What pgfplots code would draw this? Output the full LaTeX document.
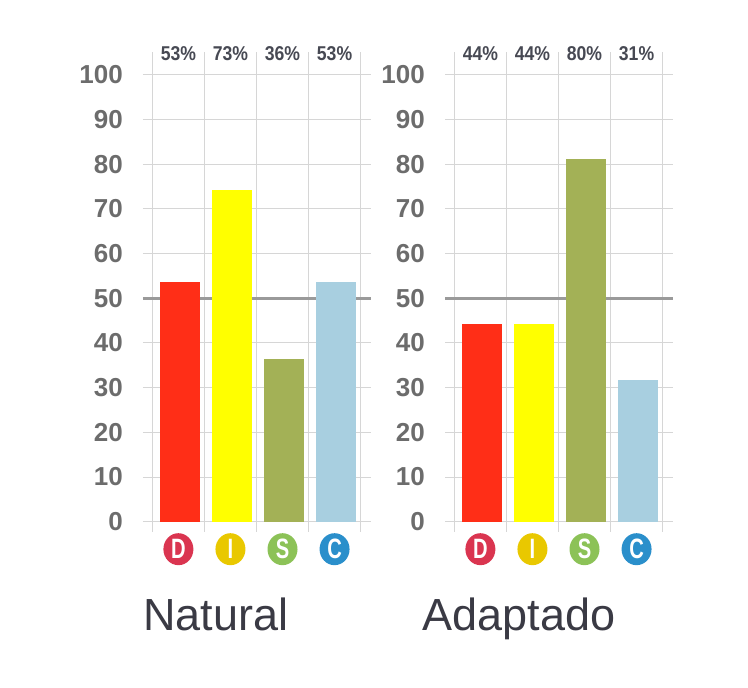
\documentclass[border=0pt]{standalone}
\usepackage{pgfplots}
\pgfplotsset{compat=1.18}
\usepackage{fontspec}
\setmainfont{Liberation Sans}
\newfontfamily\condfont{Liberation Sans Bold}[FakeStretch=0.88]
\newfontfamily\discfont{Liberation Sans Bold}[FakeStretch=0.72]
\usetikzlibrary{shapes.geometric}

\definecolor{barD}{HTML}{FF2E17}
\definecolor{barI}{HTML}{FFFF00}
\definecolor{barS}{HTML}{A3B156}
\definecolor{barC}{HTML}{A8CFE0}
\definecolor{gridc}{HTML}{D6D6D6}
\definecolor{fifty}{HTML}{9A9A9A}
\definecolor{tickc}{HTML}{6C6C6C}
\definecolor{pctc}{HTML}{474953}
\definecolor{titlec}{HTML}{3A3A44}
\definecolor{cD}{HTML}{DA3550}
\definecolor{cI}{HTML}{E9C800}
\definecolor{cS}{HTML}{8CC257}
\definecolor{cC}{HTML}{2A8FCB}

\newcommand{\disc}[2]{\tikz[baseline=(n.base)]\node[ellipse, fill=#1, draw=none, inner sep=0pt, minimum width=30pt, minimum height=32pt, text=white, font=\discfont\fontsize{28}{28}\selectfont](n){#2};}

\pgfplotsset{discax/.style={
  scale only axis, width=228pt, height=480pt,
  xmin=-0.18, xmax=4.2, ymin=-2.3, ymax=105.1,
  axis line style={draw=none},
  ytick={0,10,...,100},
  major tick length=0pt, minor tick length=0pt,
  ymajorgrids, major grid style={gridc, line width=1pt},
  xtick={0.5,1.5,2.5,3.5},
  minor xtick={0,1,2,3,4}, xminorgrids, minor grid style={gridc, line width=1pt},
  /pgf/number format/assume math mode=true,
  yticklabel style={font=\bfseries\fontsize{26}{26}\selectfont, text=tickc, anchor=east, inner sep=0pt, xshift=-20pt},
  xticklabels={\disc{cD}{D}, \disc{cI}{I}, \disc{cS}{S}, \disc{cC}{C}},
  xticklabel style={anchor=north, inner sep=0pt, yshift=-1pt},
  ybar, bar width=0.77, bar shift=1.5pt,
  clip=false,
  every node near coord/.append style={font=\condfont\fontsize{20}{20}\selectfont, text=pctc, inner sep=0pt},
}}

\begin{document}
\begin{tikzpicture}
\useasboundingbox (0,0) rectangle (748pt,688pt);
% Natural
\begin{axis}[discax, at={(143pt,156pt)}, anchor=south west]
\draw[fifty, line width=2.5pt] (axis cs:-0.18,50) -- (axis cs:4.2,50);
\addplot[fill=barD, draw=none] coordinates {(0.5,53.6)};
\addplot[fill=barI, draw=none] coordinates {(1.5,74.2)};
\addplot[fill=barS, draw=none] coordinates {(2.5,36.5)};
\addplot[fill=barC, draw=none] coordinates {(3.5,53.6)};
\addplot[draw=none, fill=none, bar shift=0pt, nodes near coords, point meta=explicit symbolic]
  coordinates {(0.5,103.1)[53\%] (1.5,103.1)[73\%] (2.5,103.1)[36\%] (3.5,103.1)[53\%]};
\end{axis}
% Adaptado
\begin{axis}[discax, at={(445pt,156pt)}, anchor=south west]
\draw[fifty, line width=2.5pt] (axis cs:-0.18,50) -- (axis cs:4.2,50);
\addplot[fill=barD, draw=none] coordinates {(0.5,44.3)};
\addplot[fill=barI, draw=none] coordinates {(1.5,44.3)};
\addplot[fill=barS, draw=none] coordinates {(2.5,81.2)};
\addplot[fill=barC, draw=none] coordinates {(3.5,31.7)};
\addplot[draw=none, fill=none, bar shift=0pt, nodes near coords, point meta=explicit symbolic]
  coordinates {(0.5,103.1)[44\%] (1.5,103.1)[44\%] (2.5,103.1)[80\%] (3.5,103.1)[31\%]};
\end{axis}
\node[font=\fontsize{45}{45}\selectfont, text=titlec, anchor=base] at (216pt,57pt) {Natural};
\node[font=\fontsize{45}{45}\selectfont, text=titlec, anchor=base] at (519pt,57pt) {Adaptado};
\end{tikzpicture}
\end{document}
